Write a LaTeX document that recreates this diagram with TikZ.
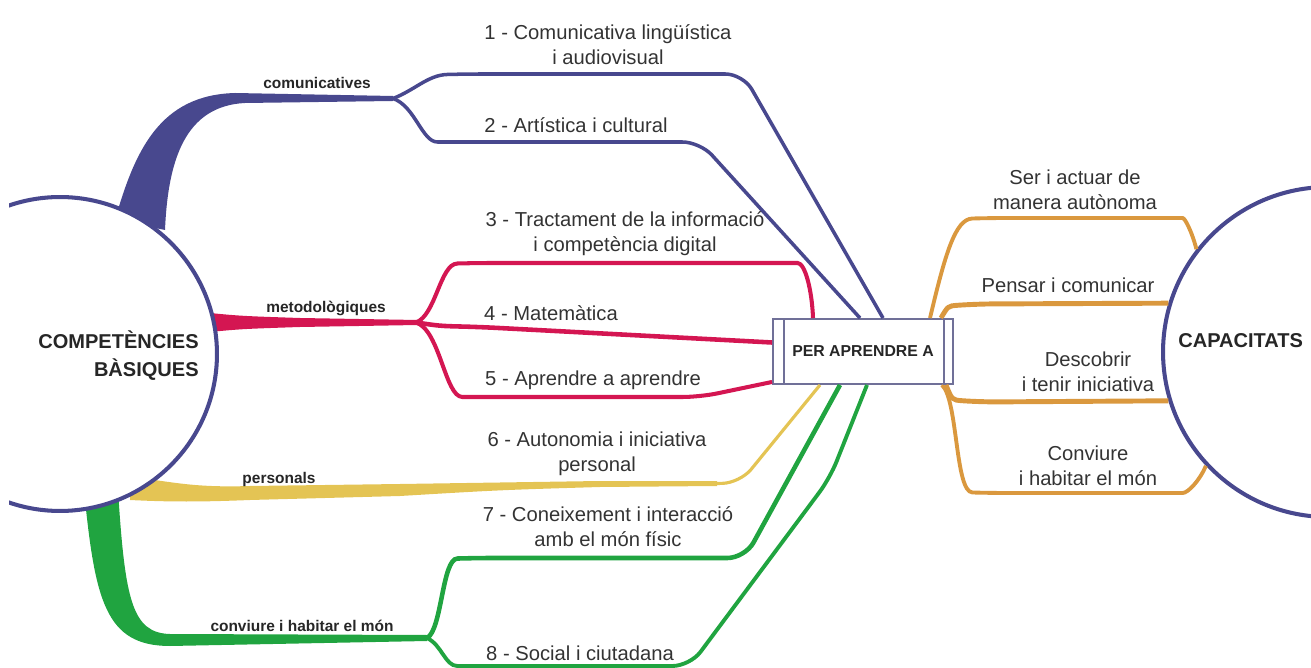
\documentclass[tikz,border=0pt]{standalone}
\usepackage{fontspec}
\setmainfont{Liberation Sans}
\usetikzlibrary{calc}
\definecolor{navy}{RGB}{72,72,142}
\definecolor{crim}{RGB}{212,22,82}
\definecolor{ochre}{RGB}{228,196,84}
\definecolor{grn}{RGB}{32,164,64}
\definecolor{orng}{RGB}{218,152,62}
\definecolor{boxline}{RGB}{112,112,152}
\begin{document}
\begin{tikzpicture}[x=0.02cm,y=-0.02cm,
    ring/.style={circle,draw=navy,line width=2.3pt,fill=white,inner sep=0pt},
    perbox/.style={draw=boxline,line width=1.1pt,fill=white,minimum width=3.6cm,minimum height=1.3cm,inner sep=0pt,text=black!85,font=\fontsize{9}{10}\selectfont\bfseries},
    lbl/.style={text=black!80,align=center,inner sep=0pt,font=\fontsize{11.5}{14.2}\selectfont},
    tag/.style={text=black!85,inner sep=0pt,font=\fontsize{8.8}{10}\selectfont\bfseries},
    title/.style={text=black!85,inner sep=0pt,font=\fontsize{11.4}{16}\selectfont\bfseries},
    branch/.style={line width=#1,rounded corners=10pt}]
    \useasboundingbox (0,0) rectangle (1311,668);
    \clip (9,0) rectangle (1311,668);
    \node[perbox] (per) at (863,351.5) {PER APRENDRE A};
    \node[ring,minimum size=6.6cm] (capac) at (1328,352) {};
    \coordinate (scom) at (393,98.5);
    \coordinate (smet) at (416,322.5);
    \coordinate (scon) at (427,638);
    \fill[navy] (115,220) .. controls (135,150) and (160,95) .. (235,93) -- (393,96) -- (393,101) -- (245,103) .. controls (185,106) and (168,160) .. (165,230) -- cycle;
    \fill[crim] (200,312) .. controls (240,316) .. (300,318) -- (418,320) -- (418,325) -- (300,327) .. controls (240,329) .. (200,333) -- cycle;
    \fill[ochre] (130,477) .. controls (170,481) and (190,488) .. (250,486) -- (400,484) .. controls (500,482) .. (600,481) -- (717,481) -- (717,486) -- (600,487) .. controls (500,490) .. (400,496) -- (250,500) .. controls (200,502) and (170,502) .. (130,500) -- cycle;
    \fill[grn] (84,490) .. controls (95,600) and (105,646) .. (170,646) -- (427,641) -- (427,635) -- (170,634) .. controls (132,633) and (125,600) .. (118,490) -- cycle;
    \draw[navy,branch=2pt] (scom) .. controls (415,90) and (428,75) .. (465,74) -- (743,74) -- ($(per.north)+(20,0)$);
    \draw[navy,branch=2pt] (scom) .. controls (415,106) and (422,142) .. (455,142) -- (700,142) -- ($(per.north)+(-3,0)$);
    \draw[crim,branch=2.3pt] (smet) .. controls (436,315) and (440,264) .. (475,263) -- (780,263) .. controls (805,263) and (812,290) .. ($(per.north)+(-50,0)$);
    \draw[crim,branch=2.6pt] (smet) .. controls (440,326) .. (480,327) -- ($(per.west)+(0,-9)$);
    \draw[crim,branch=2.3pt] (smet) .. controls (440,330) and (445,397) .. (480,397) -- (700,397) -- ($(per.south west)+(0,-3)$);
    \draw[ochre,branch=1.8pt] (716,483.5) -- (740,483) -- ($(per.south)+(-43,0)$);
    \draw[grn,branch=2.6pt] (scon) .. controls (442,630) and (442,559) .. (475,558) -- (745,558) -- ($(per.south)+(-23,0)$);
    \draw[grn,branch=2.2pt] (scon) .. controls (442,645) and (445,666) .. (475,666) -- (690,666) -- (830,478) -- ($(per.south)+(4,0)$);
    \draw[orng,branch=2.2pt] ($(per.north)+(67,0)$) .. controls (945,255) and (955,219) .. (990,218) -- (1165,218) .. controls (1185,218) and (1192,232) .. (capac.142);
    \draw[orng,branch=2.8pt] ($(per.north east)+(-13,0)$) .. controls (948,306) .. (975,304) -- (capac.163);
    \draw[orng,branch=2.8pt] ($(per.south east)+(-8,0)$) .. controls (952,400) .. (980,402) -- (capac.197);
    \draw[orng,branch=2.2pt] ($(per.south east)+(-12,0)$) .. controls (958,400) and (955,492) .. (990,493) -- (1165,493) .. controls (1188,493) and (1200,480) .. (capac.223);
    \node[ring,minimum size=6.28cm] (comp) at (60,354) {};
    \draw[boxline,line width=1.1pt] ($(per.north west)+(12,0)$) -- ($(per.south west)+(12,0)$);
    \draw[boxline,line width=1.1pt] ($(per.north east)+(-10,0)$) -- ($(per.south east)+(-10,0)$);
    \node[title,anchor=east,align=right] (tcomp) at (199,356) {COMPETÈNCIES\\BÀSIQUES};
    \node[title,anchor=west] (tcapac) at (1178,341) {CAPACITATS};
    \node[tag] (gcom) at (317,83) {comunicatives};
    \node[tag] (gmet) at (326,308) {metodològiques};
    \node[tag] (gper) at (279,480) {personals};
    \node[tag] (gcon) at (302,626) {conviure i habitar el món};
    \node[lbl] (c1) at (608,45) {1 - Comunicativa lingüística\\i audiovisual};
    \node[lbl] (c2) at (576,125) {2 - Artística i cultural};
    \node[lbl] (c3) at (625,234) {3 - Tractament de la informació\\i competència digital};
    \node[lbl] (c4) at (551,313) {4 - Matemàtica};
    \node[lbl] (c5) at (593,380) {5 - Aprendre a aprendre};
    \node[lbl] (c6) at (597,454) {6 - Autonomia i iniciativa\\personal};
    \node[lbl] (c7) at (608,527) {7 - Coneixement i interacció\\amb el món físic};
    \node[lbl] (c8) at (580,653) {8 - Social i ciutadana};
    \node[lbl] (k1) at (1075,190) {Ser i actuar de\\manera autònoma};
    \node[lbl] (k2) at (1068,285) {Pensar i comunicar};
    \node[lbl] (k3) at (1088,372) {Descobrir\\i tenir iniciativa};
    \node[lbl] (k4) at (1088,466) {Conviure\\i habitar el món};
\end{tikzpicture}
\end{document}
